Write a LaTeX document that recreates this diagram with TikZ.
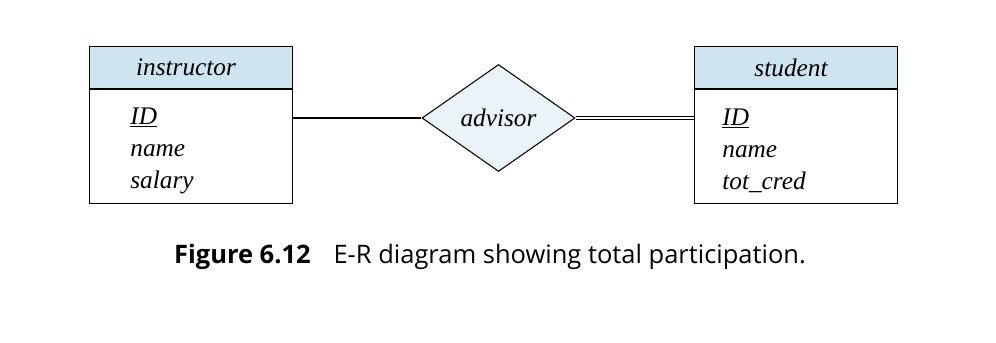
\documentclass[tikz,border=0pt]{standalone}
\usepackage{fontspec}
\setmainfont{Liberation Serif}
\newfontfamily\capfont{Open Sans}
\usepackage{tikz}
\usetikzlibrary{calc, positioning, shapes.geometric}
\usepackage{xcolor}
\definecolor{headBlue}{RGB}{206, 229, 240}
\definecolor{relBlue}{RGB}{234, 244, 248}

\begin{document}
\begin{tikzpicture}[
  entHead/.style={draw, fill=headBlue, line width=0.6pt, minimum width=4.06cm,
                  minimum height=0.84cm, inner sep=0pt,
                  font=\fontsize{14.4}{18.2}\selectfont\itshape},
  entBody/.style={draw, fill=white, line width=0.6pt, minimum width=4.06cm,
                  minimum height=2.28cm, inner sep=0pt},
  attrList/.style={inner sep=0pt, align=left,
                   font=\fontsize{14.4}{18.2}\selectfont\itshape},
  relship/.style={draw, diamond, fill=relBlue, line width=0.6pt, aspect=1.43,
                  minimum width=3.06cm, minimum height=2.14cm, inner sep=0pt,
                  font=\fontsize{14.4}{18.2}\selectfont\itshape},
  link/.style={line width=0.6pt}
]
  \useasboundingbox (0,0) rectangle (19.92,6.84);

  % entity sets
  \node[entHead, anchor=north west] (instrHead) at (1.78, 5.92) {\kern-0.2cm instructor};
  \node[entBody, anchor=north] (instrBody) at (instrHead.south) {};
  \node[attrList, anchor=west] (instrAttr) at ([xshift=0.82cm, yshift=-0.08cm]instrBody.west)
    {\underline{ID}\\name\\salary};

  \node[entHead, anchor=north west] (studHead) at (13.88, 5.92) {\kern-0.2cm student};
  \node[entBody, anchor=north] (studBody) at (studHead.south) {};
  \node[attrList, anchor=west] (studAttr) at ([xshift=0.56cm, yshift=-0.08cm]studBody.west)
    {\underline{ID}\\name\\tot\_cred};

  % relationship set
  \node[relship] (advisor) at (9.97, 4.48) {advisor};

  % connectors
  \draw[link] (advisor.west) -- (advisor.west -| instrBody.east);
  \draw[link, double, double distance=1.2pt] (advisor.east) -- (advisor.east -| studBody.west);

  % caption
  \node[font=\capfont\fontsize{14.5}{17}\selectfont] (caption) at (9.8, 1.7)
    {\textbf{Figure 6.12}\hspace{0.9em}E-R diagram showing total participation.};
\end{tikzpicture}
\end{document}
